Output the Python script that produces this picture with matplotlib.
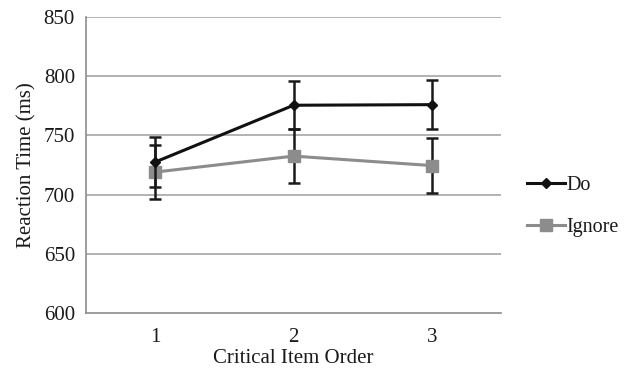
import matplotlib
matplotlib.use("Agg")
import matplotlib.pyplot as plt
from matplotlib.lines import Line2D

categories = ["1", "2", "3"]
do_values = [727.5, 775.5, 776.0]
do_errors = [21.0, 20.5, 21.0]
ignore_values = [719.0, 732.5, 724.5]
ignore_errors = [23.0, 22.5, 23.5]
yticks = [600, 650, 700, 750, 800, 850]

plt.rcParams['font.family'] = ['Liberation Serif', 'DejaVu Serif']

fig = plt.figure(figsize=(6.28, 3.72), dpi=100)
ax = fig.add_axes([0.137, 0.159, 0.661, 0.795])

x = list(range(1, len(categories) + 1))

for yv in yticks[1:]:
    ax.axhline(yv, color='#a6a6a6', lw=1.2, zorder=0)

ax.errorbar(x, ignore_values, yerr=ignore_errors, color='#8c8c8c', lw=2.2,
            marker='s', markersize=8, markerfacecolor='#8c8c8c', markeredgecolor='#8c8c8c',
            ecolor='#1a1a1a', elinewidth=1.8, capsize=4, capthick=1.8, zorder=3)
ax.errorbar(x, do_values, yerr=do_errors, color='#111111', lw=2.2,
            marker='D', markersize=5.5, markerfacecolor='#111111', markeredgecolor='#111111',
            ecolor='#1a1a1a', elinewidth=1.8, capsize=4, capthick=1.8, zorder=4)

ax.set_xlim(0.5, 3.5)
ax.set_ylim(600, 850)
ax.set_yticks(yticks)
ax.set_xticks(x)
ax.set_xticklabels(categories)
ax.tick_params(axis='both', length=0, labelsize=15, colors='#1a1a1a')
ax.tick_params(axis='y', pad=8)
ax.tick_params(axis='x', pad=11)

for s in ['top', 'right']:
    ax.spines[s].set_visible(False)
for s in ['left', 'bottom']:
    ax.spines[s].set_color('#8c8c8c')
    ax.spines[s].set_linewidth(1.2)

ax.set_xlabel('Critical Item Order', fontsize=15, color='#1a1a1a', labelpad=1)
ax.set_ylabel('Reaction Time (ms)', fontsize=15, color='#1a1a1a', labelpad=5)

h_do = Line2D([], [], color='#111111', lw=2.2, marker='D', markersize=5.5)
h_ig = Line2D([], [], color='#8c8c8c', lw=2.2, marker='s', markersize=8)
fig.legend([h_do, h_ig], ['Do', 'Ignore'], loc='center left',
           bbox_to_anchor=(0.81, 0.445), frameon=False, fontsize=14.5,
           handlelength=1.9, handletextpad=0.05, labelspacing=1.15, labelcolor='#1a1a1a')

fig.savefig('out.png', dpi=100)
